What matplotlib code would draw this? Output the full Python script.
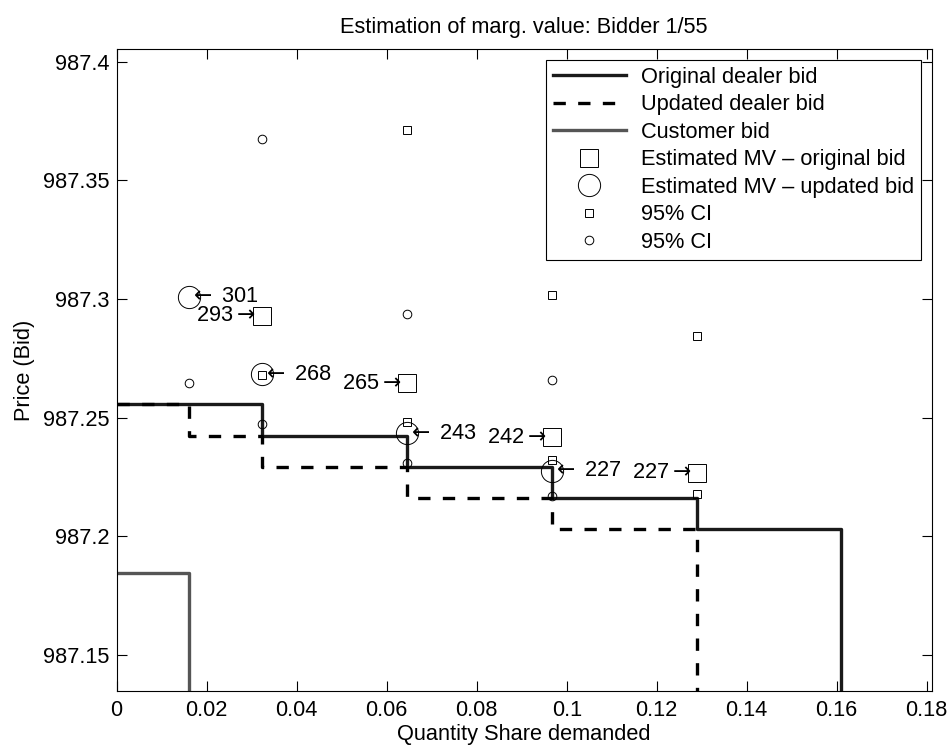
import matplotlib
matplotlib.use("Agg")
import matplotlib.pyplot as plt
from matplotlib.ticker import FuncFormatter

plt.rcParams['font.family'] = ['Liberation Sans', 'DejaVu Sans']
plt.rcParams['font.size'] = 15.7
plt.rcParams['mathtext.fontset'] = 'dejavusans'

# step curves: quantity breakpoints and price levels
orig_q = [0, 0.0322, 0.0645, 0.0968, 0.129, 0.161]
orig_p = [987.2556, 987.2425, 987.2291, 987.2163, 987.2032]
upd_q = [0, 0.0161, 0.0322, 0.0645, 0.0968, 0.129]
upd_p = [987.2556, 987.2425, 987.2291, 987.2163, 987.2032]
cust_q = [0, 0.0161]
cust_p = [987.1846]
p_floor = 987.10

# estimated marginal values
mv_orig_x = [0.0322, 0.0645, 0.0968, 0.129]
mv_orig_y = [987.293, 987.2645, 987.2417, 987.2268]
mv_orig_lab = ['293', '265', '242', '227']
mv_upd_x = [0.0161, 0.0322, 0.0645, 0.0968]
mv_upd_y = [987.301, 987.2683, 987.2434, 987.2277]
mv_upd_lab = ['301', '268', '243', '227']

# 95% confidence bounds
ci_sq_x = [0.0322, 0.0645, 0.0645, 0.0968, 0.0968, 0.129, 0.129]
ci_sq_y = [987.268, 987.3713, 987.2483, 987.3016, 987.2322, 987.2845, 987.2179]
ci_ci_x = [0.0161, 0.0322, 0.0322, 0.0645, 0.0645, 0.0968, 0.0968]
ci_ci_y = [987.2647, 987.3673, 987.2472, 987.2937, 987.231, 987.2659, 987.2171]


def step_xy(q, p, floor):
    xs, ys = [], []
    for i, price in enumerate(p):
        xs += [q[i], q[i + 1]]
        ys += [price, price]
    xs.append(q[-1])
    ys.append(floor)
    return xs, ys


fig = plt.figure(figsize=(9.47, 7.46), dpi=100)
ax = fig.add_axes([0.1232, 0.0741, 0.8606, 0.8598])

x, y = step_xy(orig_q, orig_p, p_floor)
ax.plot(x, y, color='#1a1a1a', lw=2.4, label='Original dealer bid')
x, y = step_xy(upd_q, upd_p, p_floor)
ax.plot(x, y, color='black', lw=2.4, dashes=(3.7, 3.7), label='Updated dealer bid')
x, y = step_xy(cust_q, cust_p, p_floor)
ax.plot(x, y, color='#555555', lw=2.4, label='Customer bid')

ax.plot(mv_orig_x, mv_orig_y, ls='none', marker='s', ms=12.7, mfc='none',
        mec='black', mew=0.7, label='Estimated MV \u2013 original bid')
ax.plot(mv_upd_x, mv_upd_y, ls='none', marker='o', ms=16, mfc='none',
        mec='black', mew=0.7, label='Estimated MV \u2013 updated bid')
ax.plot(ci_sq_x, ci_sq_y, ls='none', marker='s', ms=5.3, mfc='none',
        mec='black', mew=0.7, label='95% CI')
ax.plot(ci_ci_x, ci_ci_y, ls='none', marker='o', ms=6.2, mfc='none',
        mec='black', mew=0.7, label='95% CI')

for xv, yv, lab in zip(mv_orig_x, mv_orig_y, mv_orig_lab):
    ax.annotate(lab + r'$\rightarrow$', (xv, yv), xytext=(-4, 0),
                textcoords='offset points', ha='right', va='center')
for xv, yv, lab in zip(mv_upd_x, mv_upd_y, mv_upd_lab):
    ax.annotate(r'$\leftarrow$ ' + lab, (xv, yv), xytext=(0, 0),
                textcoords='offset points', ha='left', va='center')

ax.set_xlim(0, 0.1811)
ax.set_ylim(987.135, 987.4052)
ax.set_xticks([0, 0.02, 0.04, 0.06, 0.08, 0.1, 0.12, 0.14, 0.16, 0.18])
ax.set_yticks([987.15, 987.2, 987.25, 987.3, 987.35, 987.4])
fmt = FuncFormatter(lambda v, pos: f'{v:g}')
ax.xaxis.set_major_formatter(fmt)
ax.yaxis.set_major_formatter(fmt)
ax.tick_params(direction='in', top=True, right=True, length=7, width=0.8)
ax.tick_params(axis='x', pad=7)
ax.tick_params(axis='y', pad=5)
for s in ax.spines.values():
    s.set_linewidth(0.8)

ax.set_title('Estimation of marg. value: Bidder 1/55', fontsize=15.7, pad=12)
ax.set_xlabel('Quantity Share demanded', labelpad=2)
ax.set_ylabel('Price (Bid)', labelpad=6)

leg = ax.legend(loc='upper right', handlelength=3.35, handletextpad=0.7,
                borderpad=0.3, borderaxespad=0.5, labelspacing=0.3,
                fancybox=False, framealpha=1, edgecolor='black')
leg.get_frame().set_linewidth(0.8)

fig.savefig('out.png', dpi=100)
